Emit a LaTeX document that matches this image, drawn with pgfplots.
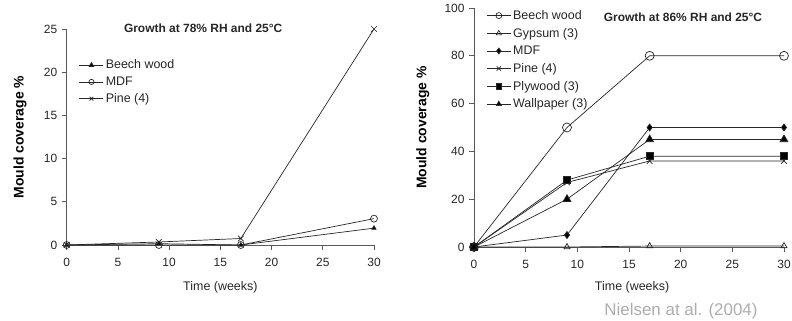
\documentclass[border=0pt]{standalone}
\usepackage{fontspec}
\setmainfont{Liberation Sans}
\usepackage{pgfplots}
\pgfplotsset{compat=1.18}
\pgfplotsset{
 mystyle/.style={
  scale only axis,
  axis x line*=bottom, axis y line*=left,
  axis line style={black!65, line width=0.8bp, -},
  tick style={black!65, line width=0.8bp},
  tick align=outside, major tick length=5bp,
  xmin=0, xmax=30, xtick={0,5,...,30},
  ticklabel style={font=\fontsize{12}{14}\selectfont, text=black!85},
  xticklabel style={yshift=-4.5bp},
  yticklabel style={xshift=-1bp},
  /pgf/number format/assume math mode=true,
  clip=false,
  every axis plot/.append style={black!85, line width=0.7bp},
  legend style={draw=none, fill=none, font=\fontsize{12.5}{14}\selectfont, row sep=2.5bp, text=black!85},
  legend cell align=left,
  xlabel={Time (weeks)},
  ylabel={Mould coverage \%},
  xlabel style={font=\fontsize{12.5}{14}\selectfont, text=black!85, anchor=center},
  ylabel style={font=\bfseries\fontsize{14}{16}\selectfont, anchor=center},
  title style={font=\bfseries\fontsize{12}{14}\selectfont, anchor=center, text=black!85},
 }
}
\begin{document}
\begin{tikzpicture}
\path[use as bounding box] (0,0) rectangle (792bp,321bp);
% Left chart
\begin{axis}[mystyle,
  at={(66.7bp,76bp)}, anchor=south west,
  width=307.3bp, height=216bp,
  ymin=0, ymax=25, ytick={0,5,...,25},
  title={Growth at 78\% RH and 25\textdegree C},
  title style={at={(axis description cs:0.444,0.99)}, yshift=-3bp},
  xlabel style={at={(axis description cs:0.5,-0.195)}},
  ylabel style={at={(axis description cs:-0.152,0.5)}},
  legend style={at={(axis description cs:0.03,0.755)}, anchor=west},
  legend image code/.code={\draw[mark repeat=2,mark phase=2,mark size=2.6] plot coordinates {(0bp,0bp)(12bp,0bp)(24bp,0bp)};},
]
\addplot[mark=triangle*, mark size=2.4, mark options={fill=black}] coordinates {(0,0) (9,0.15) (17,0) (30,1.95)};
\addlegendentry{Beech wood}
\addplot[mark=o, mark size=3.5, mark options={fill=white}] coordinates {(0,0) (9,0) (17,0) (30,3.05)};
\addlegendentry{MDF}
\addplot[mark=x, mark size=4] coordinates {(0,0) (9,0.35) (17,0.75) (30,25)};
\addlegendentry{Pine (4)}
\end{axis}
% Right chart
\begin{axis}[mystyle,
  at={(474bp,74bp)}, anchor=south west,
  width=310bp, height=239bp,
  ymin=0, ymax=100, ytick={0,20,...,100},
  title={Growth at 86\% RH and 25\textdegree C},
  title style={at={(axis description cs:0.674,0.947)}, yshift=-3bp},
  xlabel style={at={(axis description cs:0.51,-0.168)}},
  ylabel style={at={(axis description cs:-0.165,0.5)}},
  legend style={at={(axis description cs:0.03,0.783)}, anchor=west, row sep=3.3bp},
  legend image code/.code={\draw[mark repeat=2,mark phase=2,mark size=3] plot coordinates {(0bp,0bp)(12bp,0bp)(24bp,0bp)};},
]
\addplot[mark=o, mark size=4.5, mark options={fill=white}] coordinates {(0,0) (9,50) (17,80) (30,80)};
\addlegendentry{Beech wood}
\addplot[mark=triangle, mark size=3.5, mark options={fill=white}] coordinates {(0,0) (9,0) (17,0.4) (30,0.4)};
\addlegendentry{Gypsum (3)}
\addplot[mark=diamond*, mark size=3.5, mark options={fill=black}] coordinates {(0,0) (9,5) (17,50) (30,50)};
\addlegendentry{MDF}
\addplot[mark=x, mark size=4] coordinates {(0,0) (9,27) (17,36) (30,36)};
\addlegendentry{Pine (4)}
\addplot[mark=square*, mark size=3.5, mark options={fill=black}] coordinates {(0,0) (9,28) (17,38) (30,38)};
\addlegendentry{Plywood (3)}
\addplot[mark=triangle*, mark size=4.5, mark options={fill=black}] coordinates {(0,0) (9,20) (17,45) (30,45)};
\addlegendentry{Wallpaper (3)}
\end{axis}
\node[text=black!32, font=\fontsize{17}{20}\selectfont] at (681bp,10bp) {Nielsen at al. (2004)};
\end{tikzpicture}
\end{document}
